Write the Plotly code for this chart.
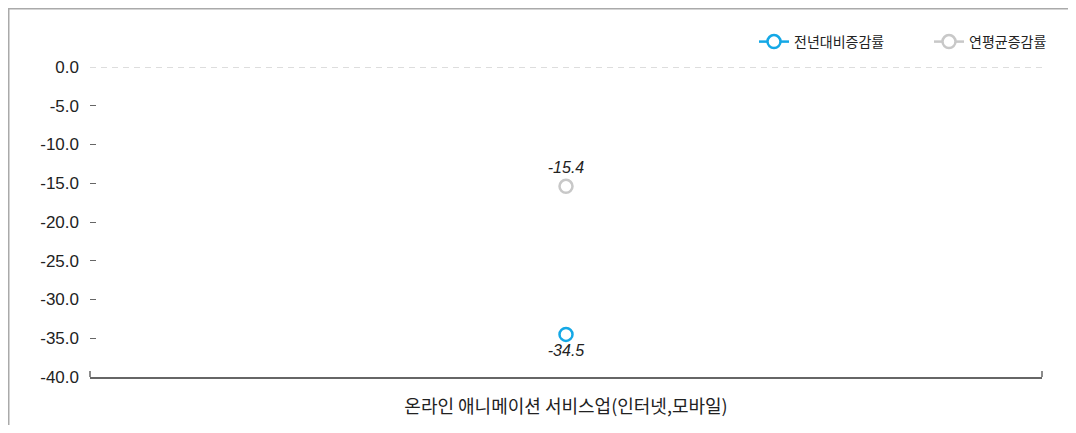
import plotly.graph_objects as go

categories = ["온라인 애니메이션 서비스업(인터넷,모바일)"]
series_names = ["전년대비증감률", "연평균증감률"]
yoy_values = [-34.5]
cagr_values = [-15.4]
y_tick_values = [0, -5, -10, -15, -20, -25, -30, -35, -40]

# page body has an 8px margin, so the figure is shrunk to fit the window
OFF = 8
W, H = 1076 - 2 * OFF, 433 - 2 * OFF
ML, MT = 90 - OFF, 67 - OFF
MR = W - (1042 - OFF)
MB = H - (377 - OFF)
PW, PH = W - ML - MR, H - MT - MB

def px_x(p):
    return (p - OFF - ML) / PW

def px_y(p):
    return (H - MB - (p - OFF)) / PH

FONT = "Liberation Sans, Noto Sans CJK KR, sans-serif"
KFONT = "Noto Sans CJK KR, sans-serif"

fig = go.Figure()
fig.add_trace(go.Scatter(
    x=categories, y=yoy_values, name=series_names[0],
    mode="lines+markers+text",
    line=dict(color="#14a8e6", width=2.5),
    marker=dict(symbol="circle", size=13, color="white",
                line=dict(color="#14a8e6", width=2.5)),
    text=[f"{v:.1f}" for v in yoy_values], textposition="bottom center",
    textfont=dict(family=FONT, size=16, color="#222", style="italic"),
    cliponaxis=False,
))
fig.add_trace(go.Scatter(
    x=categories, y=cagr_values, name=series_names[1],
    mode="lines+markers+text",
    line=dict(color="#c8c8c8", width=2.5),
    marker=dict(symbol="circle", size=13, color="white",
                line=dict(color="#c8c8c8", width=2.5)),
    text=[f"{v:.1f}" for v in cagr_values], textposition="top center",
    textfont=dict(family=FONT, size=16, color="#222", style="italic"),
    cliponaxis=False,
))

fig.update_layout(
    width=W, height=H,
    margin=dict(l=ML, r=MR, t=MT, b=MB, autoexpand=False),
    paper_bgcolor="white", plot_bgcolor="white",
    font=dict(family=KFONT, color="#222"),
    showlegend=True,
    legend=dict(orientation="h", x=1.0 + 62 / PW, xanchor="right", y=px_y(42), yanchor="middle",
                font=dict(family=KFONT, size=14, color="#222"),
                bgcolor="rgba(0,0,0,0)", entrywidth=130, tracegroupgap=0),
    xaxis=dict(
        type="category", range=[-0.5, 0.5], automargin=False,
        showline=True, linecolor="#666", linewidth=1.5,
        ticks="", showgrid=False, zeroline=False,
        tickfont=dict(family=KFONT, size=18, color="#222"),
        ticklabelstandoff=13,
    ),
    yaxis=dict(
        range=[-40, 0], tickvals=y_tick_values, automargin=False,
        ticktext=[f"{v:.1f}" for v in y_tick_values],
        ticks="inside", ticklen=6, tickcolor="#666", tickwidth=1,
        showline=False, showgrid=False, zeroline=False,
        tickfont=dict(family=FONT, size=17, color="#222"),
        ticklabelstandoff=10,
    ),
    shapes=[
        dict(type="line", xref="paper", yref="y", x0=0, x1=1, y0=0, y1=0,
             line=dict(color="#bbbbbb", width=1, dash="6px,5px"), layer="below"),
        dict(type="line", xref="paper", yref="paper", x0=0, x1=0,
             y0=0, y1=6 / PH, line=dict(color="#666", width=1.5)),
        dict(type="line", xref="paper", yref="paper", x0=1, x1=1,
             y0=0, y1=6 / PH, line=dict(color="#666", width=1.5)),
        dict(type="line", xref="paper", yref="paper",
             x0=px_x(OFF + 0.75), x1=px_x(OFF + 0.75), y0=px_y(OFF), y1=px_y(433),
             line=dict(color="#aaaaaa", width=1.5)),
        dict(type="line", xref="paper", yref="paper",
             x0=px_x(OFF), x1=px_x(1076), y0=px_y(OFF + 0.75), y1=px_y(OFF + 0.75),
             line=dict(color="#aaaaaa", width=1.5)),
    ],
)

fig.write_html("out.html")
